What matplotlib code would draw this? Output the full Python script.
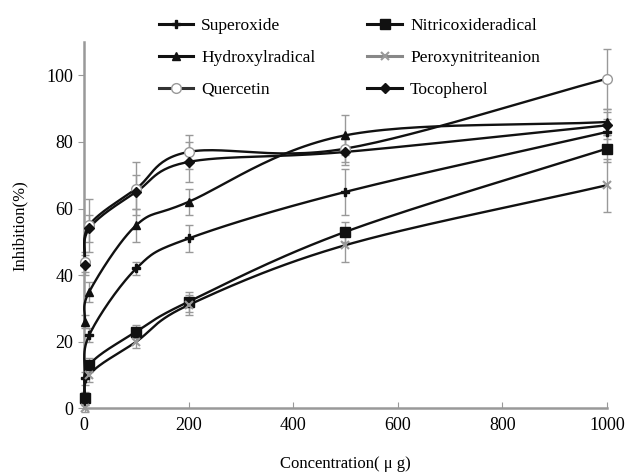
import numpy as np
import matplotlib
matplotlib.use('Agg')
import matplotlib.pyplot as plt
from matplotlib.lines import Line2D

plt.rcParams['font.family'] = ['Liberation Serif', 'DejaVu Serif']

# concentration (ug)
conc = [1, 10, 100, 200, 500, 1000]

superoxide = [9, 22, 42, 51, 65, 83]
nitric = [3, 13, 23, 32, 53, 78]
hydroxyl = [26, 35, 55, 62, 82, 86]
peroxy = [0, 10, 20, 31, 49, 67]
quercetin = [44, 55, 66, 77, 78, 99]
tocopherol = [43, 54, 65, 74, 77, 85]

superoxide_err = [2, 2, 2, 4, 7, 4]
nitric_err = [2, 2, 2, 3, 3, 4]
hydroxyl_err = [2, 3, 5, 4, 6, 4]
peroxy_err = [1, 2, 2, 3, 5, 8]
quercetin_err = [3, 8, 8, 5, 4, 9]
tocopherol_err = [3, 4, 5, 6, 4, 4]

labels = ['Superoxide', 'Hydroxylradical', 'Quercetin',
          'Nitricoxideradical', 'Peroxynitriteanion', 'Tocopherol']


def smooth(x, y, n=30):
    """Catmull-Rom curve through the points (like Excel smoothed line)"""
    x = np.asarray(x, float)
    y = np.asarray(y, float)
    sx, sy = x / 1000.0, y / 110.0
    px = np.concatenate([[2 * sx[0] - sx[1]], sx, [2 * sx[-1] - sx[-2]]])
    py = np.concatenate([[2 * sy[0] - sy[1]], sy, [2 * sy[-1] - sy[-2]]])
    out_x, out_y = [], []
    t = np.linspace(0, 1, n)
    for i in range(1, len(px) - 2):
        for p, out in ((px, out_x), (py, out_y)):
            p0, p1, p2, p3 = p[i - 1], p[i], p[i + 1], p[i + 2]
            c = 0.5 * ((2 * p1) + (-p0 + p2) * t
                       + (2 * p0 - 5 * p1 + 4 * p2 - p3) * t ** 2
                       + (-p0 + 3 * p1 - 3 * p2 + p3) * t ** 3)
            out.extend(c)
    return np.array(out_x) * 1000.0, np.array(out_y) * 110.0


fig = plt.figure(figsize=(6.27, 4.73), dpi=100)
ax = fig.add_axes([0.134, 0.137, 0.834, 0.774])

series = [
    (superoxide, superoxide_err, dict(marker='P', color='#111', mfc='#111', mec='#111', ms=6), '#111'),
    (hydroxyl, hydroxyl_err, dict(marker='^', color='#111', mfc='#111', mec='#111', ms=6), '#111'),
    (quercetin, quercetin_err, dict(marker='o', color='#111', mfc='white', mec='#999', ms=7), '#333'),
    (nitric, nitric_err, dict(marker='s', color='#111', mfc='#111', mec='#111', ms=6.5), '#111'),
    (peroxy, peroxy_err, dict(marker='x', color='#111', mfc='#999', mec='#999', ms=6, mew=1.5), '#888'),
    (tocopherol, tocopherol_err, dict(marker='D', color='#111', mfc='#111', mec='#111', ms=5.5), '#111'),
]

handles = []
for (vals, err, style, legcol), lab in zip(series, labels):
    ax.errorbar(conc, vals, yerr=err, fmt='none', ecolor='#999', elinewidth=1,
                capsize=3, capthick=1, zorder=2, clip_on=False)
    sx, sy = smooth(conc, vals)
    ax.plot(sx, sy, color='#111', lw=1.7, zorder=3, clip_on=False)
    ax.plot(conc, vals, ls='none', zorder=4, clip_on=False, **style)
    st = dict(style)
    st['color'] = legcol
    handles.append(Line2D([], [], lw=2.2, **st))

ax.set_xlim(0, 1000)
ax.set_ylim(0, 110)
ax.set_xticks([0, 200, 400, 600, 800, 1000])
ax.set_yticks([0, 20, 40, 60, 80, 100])
ax.tick_params(axis='x', direction='in', length=4, color='#999', labelsize=13, pad=6)
ax.tick_params(axis='y', direction='out', length=4, color='#999', labelsize=13)
for s in ['top', 'right']:
    ax.spines[s].set_visible(False)
for s in ['left', 'bottom']:
    ax.spines[s].set_color('#999')
    ax.spines[s].set_linewidth(1.8)

ax.set_ylabel('Inhibition(%)', fontsize=12, labelpad=14)
ax.set_xlabel('Concentration( μ g)', fontsize=12, labelpad=16)

fig.legend(handles=handles, labels=labels, ncol=2, loc='upper left',
           bbox_to_anchor=(0.228, 0.995), frameon=False, fontsize=12.5,
           handlelength=2.0, handletextpad=0.45, labelspacing=0.9,
           columnspacing=3.0)

plt.savefig('out.png', dpi=100)
